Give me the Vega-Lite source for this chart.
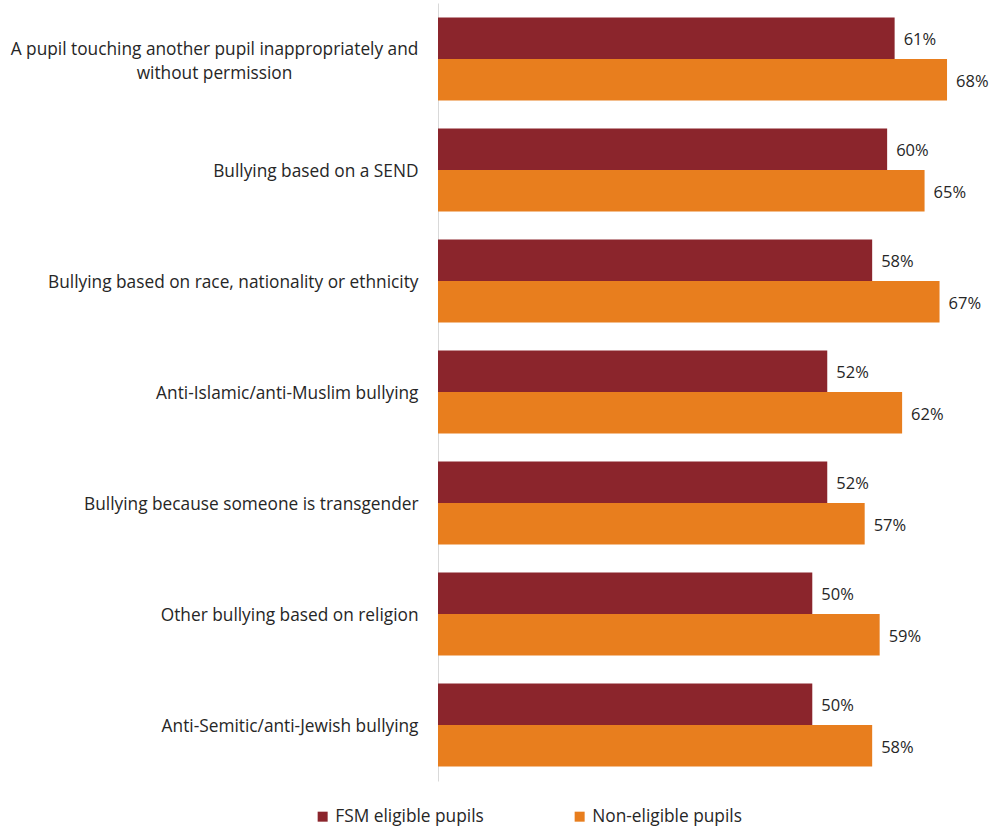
{
  "$schema": "https://vega.github.io/schema/vega-lite/v6.json",
  "width": 524,
  "height": 778,
  "autosize": {"type": "none"},
  "padding": {"left": 438, "top": 3, "right": 30, "bottom": 49},
  "background": "white",
  "config": {
    "view": {"stroke": null},
    "font": "Open Sans",
    "text": {"font": "Open Sans"}
  },
  "data": {
    "values": [
      {"category": "A pupil touching another pupil inappropriately and without permission", "group": "FSM eligible pupils", "value": 0.61},
      {"category": "A pupil touching another pupil inappropriately and without permission", "group": "Non-eligible pupils", "value": 0.68},
      {"category": "Bullying based on a SEND", "group": "FSM eligible pupils", "value": 0.60},
      {"category": "Bullying based on a SEND", "group": "Non-eligible pupils", "value": 0.65},
      {"category": "Bullying based on race, nationality or ethnicity", "group": "FSM eligible pupils", "value": 0.58},
      {"category": "Bullying based on race, nationality or ethnicity", "group": "Non-eligible pupils", "value": 0.67},
      {"category": "Anti-Islamic/anti-Muslim bullying", "group": "FSM eligible pupils", "value": 0.52},
      {"category": "Anti-Islamic/anti-Muslim bullying", "group": "Non-eligible pupils", "value": 0.62},
      {"category": "Bullying because someone is transgender", "group": "FSM eligible pupils", "value": 0.52},
      {"category": "Bullying because someone is transgender", "group": "Non-eligible pupils", "value": 0.57},
      {"category": "Other bullying based on religion", "group": "FSM eligible pupils", "value": 0.50},
      {"category": "Other bullying based on religion", "group": "Non-eligible pupils", "value": 0.59},
      {"category": "Anti-Semitic/anti-Jewish bullying", "group": "FSM eligible pupils", "value": 0.50},
      {"category": "Anti-Semitic/anti-Jewish bullying", "group": "Non-eligible pupils", "value": 0.58}
    ]
  },
  "encoding": {
    "y": {
      "field": "category",
      "type": "nominal",
      "sort": null,
      "title": null,
      "scale": {"paddingInner": 0.252, "paddingOuter": 0.1306},
      "axis": {
        "domainColor": "#d9d9d9",
        "domainWidth": 1,
        "ticks": false,
        "labelFontSize": 17.3,
        "labelColor": "#262626",
        "labelFont": "Open Sans",
        "labelLimit": 0,
        "labelLineHeight": 24,
        "labelPadding": {"condition": {"test": "datum.value == 'A pupil touching another pupil inappropriately and without permission'", "value": 224}, "value": 20},
        "labelAlign": {"condition": {"test": "datum.value == 'A pupil touching another pupil inappropriately and without permission'", "value": "center"}, "value": "right"},
        "labelOffset": {"condition": {"test": "datum.value == 'A pupil touching another pupil inappropriately and without permission'", "value": -9}, "value": 2},
        "labelExpr": "datum.value == 'A pupil touching another pupil inappropriately and without permission' ? ['A pupil touching another pupil inappropriately and', 'without permission'] : datum.value"
      }
    },
    "yOffset": {
      "field": "group",
      "type": "nominal",
      "sort": ["FSM eligible pupils", "Non-eligible pupils"],
      "scale": {"paddingInner": 0, "paddingOuter": 0}
    },
    "x": {
      "field": "value",
      "type": "quantitative",
      "scale": {"domain": [0, 0.7]},
      "axis": null
    }
  },
  "layer": [
    {
      "mark": {"type": "bar"},
      "encoding": {
        "color": {
          "field": "group",
          "type": "nominal",
          "sort": ["FSM eligible pupils", "Non-eligible pupils"],
          "scale": {"domain": ["FSM eligible pupils", "Non-eligible pupils"], "range": ["#8B252C", "#E87E1E"]},
          "legend": {
            "title": null,
            "orient": "none",
            "direction": "horizontal",
            "legendX": -124,
            "legendY": 805,
            "symbolType": "square",
            "symbolSize": 100,
            "symbolStrokeWidth": 0,
            "labelFontSize": 17.3,
            "labelFont": "Open Sans",
            "labelColor": "#262626",
            "labelOffset": 4,
            "columnPadding": 87
          }
        }
      }
    },
    {
      "mark": {"type": "text", "align": "left", "baseline": "middle", "dx": 9, "dy": 2, "fontSize": 16.5, "color": "#262626"},
      "encoding": {
        "text": {"field": "value", "type": "quantitative", "format": ".0%"}
      }
    }
  ]
}
